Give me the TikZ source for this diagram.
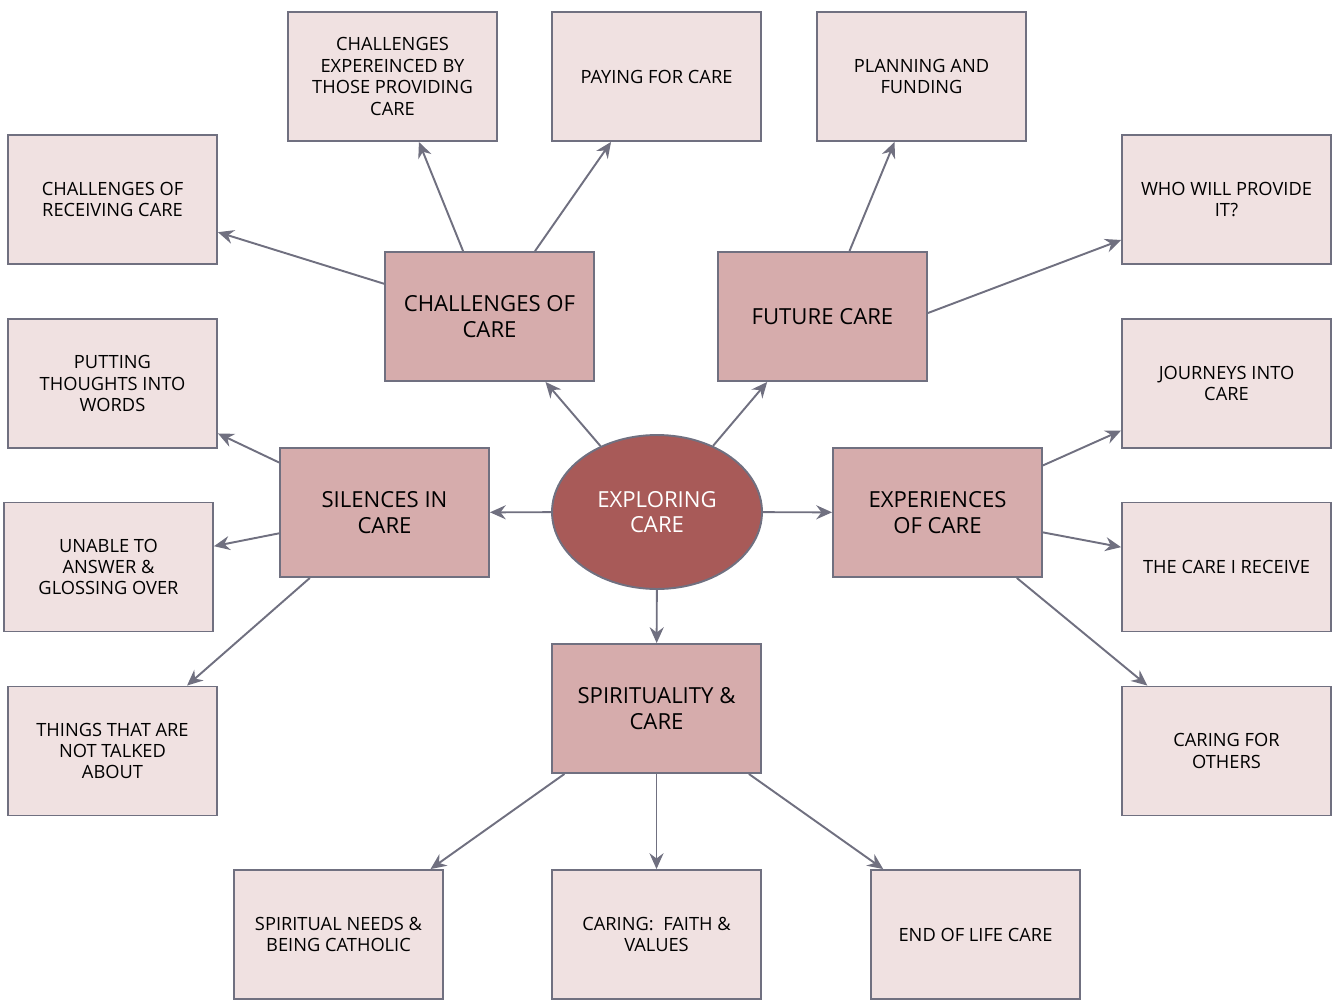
\documentclass[tikz,border=0pt]{standalone}
\usepackage{fontspec}
\setmainfont{Open Sans}
\usetikzlibrary{arrows.meta, shapes.geometric}

\definecolor{linegray}{RGB}{112,112,128}
\definecolor{leaffill}{RGB}{240,225,225}
\definecolor{themefill}{RGB}{214,172,172}
\definecolor{corefill}{RGB}{168,90,88}

\begin{document}
\begin{tikzpicture}[x=0.02cm, y=-0.02cm,
    leaf/.style={draw=linegray, line width=1.1pt, fill=leaffill, minimum width=4.18cm, minimum height=2.58cm, align=center, font=\fontsize{10.4}{12.2}\selectfont, inner sep=2pt},
    theme/.style={draw=linegray, line width=1.1pt, fill=themefill, minimum width=4.18cm, minimum height=2.58cm, align=center, font=\fontsize{12.6}{14.7}\selectfont},
    core/.style={draw=linegray, line width=1.1pt, ellipse, fill=corefill, text=white, minimum width=4.2cm, minimum height=3.08cm, align=center, font=\fontsize{12.6}{14.7}\selectfont},
    link/.style={draw=linegray, line width=1.1pt, -{Stealth[length=9pt, width=8pt, inset=3pt]}}]
    \useasboundingbox (0,0) rectangle (1337,1000);

    % centro y temas
    \node[core] (explore) at (657,512) {EXPLORING\\CARE};
    \node[theme] (chal) at (489.5,316.5) {CHALLENGES OF\\CARE};
    \node[theme] (future) at (822.5,316.5) {FUTURE CARE};
    \node[theme] (silence) at (384.5,512.5) {SILENCES IN\\CARE};
    \node[theme] (exper) at (937.5,512.5) {EXPERIENCES\\OF CARE};
    \node[theme] (spirit) at (656.5,708.5) {SPIRITUALITY \&\\CARE};

    % hojas
    \node[leaf] (receiving) at (112.5,199.5) {CHALLENGES OF\\RECEIVING CARE};
    \node[leaf] (providing) at (392.5,76.5) {CHALLENGES\\EXPEREINCED BY\\THOSE PROVIDING\\CARE};
    \node[leaf] (paying) at (656.5,76.5) {PAYING FOR CARE};
    \node[leaf] (planning) at (921.5,76.5) {PLANNING AND\\FUNDING};
    \node[leaf] (who) at (1226.5,199.5) {WHO WILL PROVIDE\\IT?};
    \node[leaf] (putting) at (112.5,383.5) {PUTTING\\THOUGHTS INTO\\WORDS};
    \node[leaf] (unable) at (108.5,567) {UNABLE TO\\ANSWER \&\\GLOSSING OVER};
    \node[leaf] (things) at (112.5,751) {THINGS THAT ARE\\NOT TALKED\\ABOUT};
    \node[leaf] (journeys) at (1226.5,383.5) {JOURNEYS INTO\\CARE};
    \node[leaf] (receive) at (1226.5,567) {THE CARE I RECEIVE};
    \node[leaf] (others) at (1226.5,751) {CARING FOR\\OTHERS};
    \node[leaf] (needs) at (338.5,934.5) {SPIRITUAL NEEDS \&\\BEING CATHOLIC};
    \node[leaf] (faith) at (656.5,934.5) {CARING:~ FAITH \&\\VALUES};
    \node[leaf] (endlife) at (975.5,934.5) {END OF LIFE CARE};

    \draw[link] (explore) -- (chal);
    \draw[link] (explore) -- (future);
    \draw[link] (explore) -- (silence);
    \draw[link] (explore) -- (exper);
    \draw[link] (explore) -- (spirit);

    \draw[link] (chal) -- (receiving);
    \draw[link] (chal) -- (providing);
    \draw[link] (chal) -- (paying);
    \draw[link] (future) -- (planning);
    \draw[link] ([yshift=0.07cm]future.east) -- ([yshift=-0.81cm]who.west);
    \draw[link] (silence) -- (putting);
    \draw[link] (silence) -- (unable);
    \draw[link] (silence) -- (things);
    \draw[link] (exper) -- (journeys);
    \draw[link] (exper) -- (receive);
    \draw[link] (exper) -- (others);
    \draw[link] (spirit) -- (needs);
    \draw[link] (spirit) -- (faith);
    \draw[link] (spirit) -- (endlife);
\end{tikzpicture}
\end{document}
